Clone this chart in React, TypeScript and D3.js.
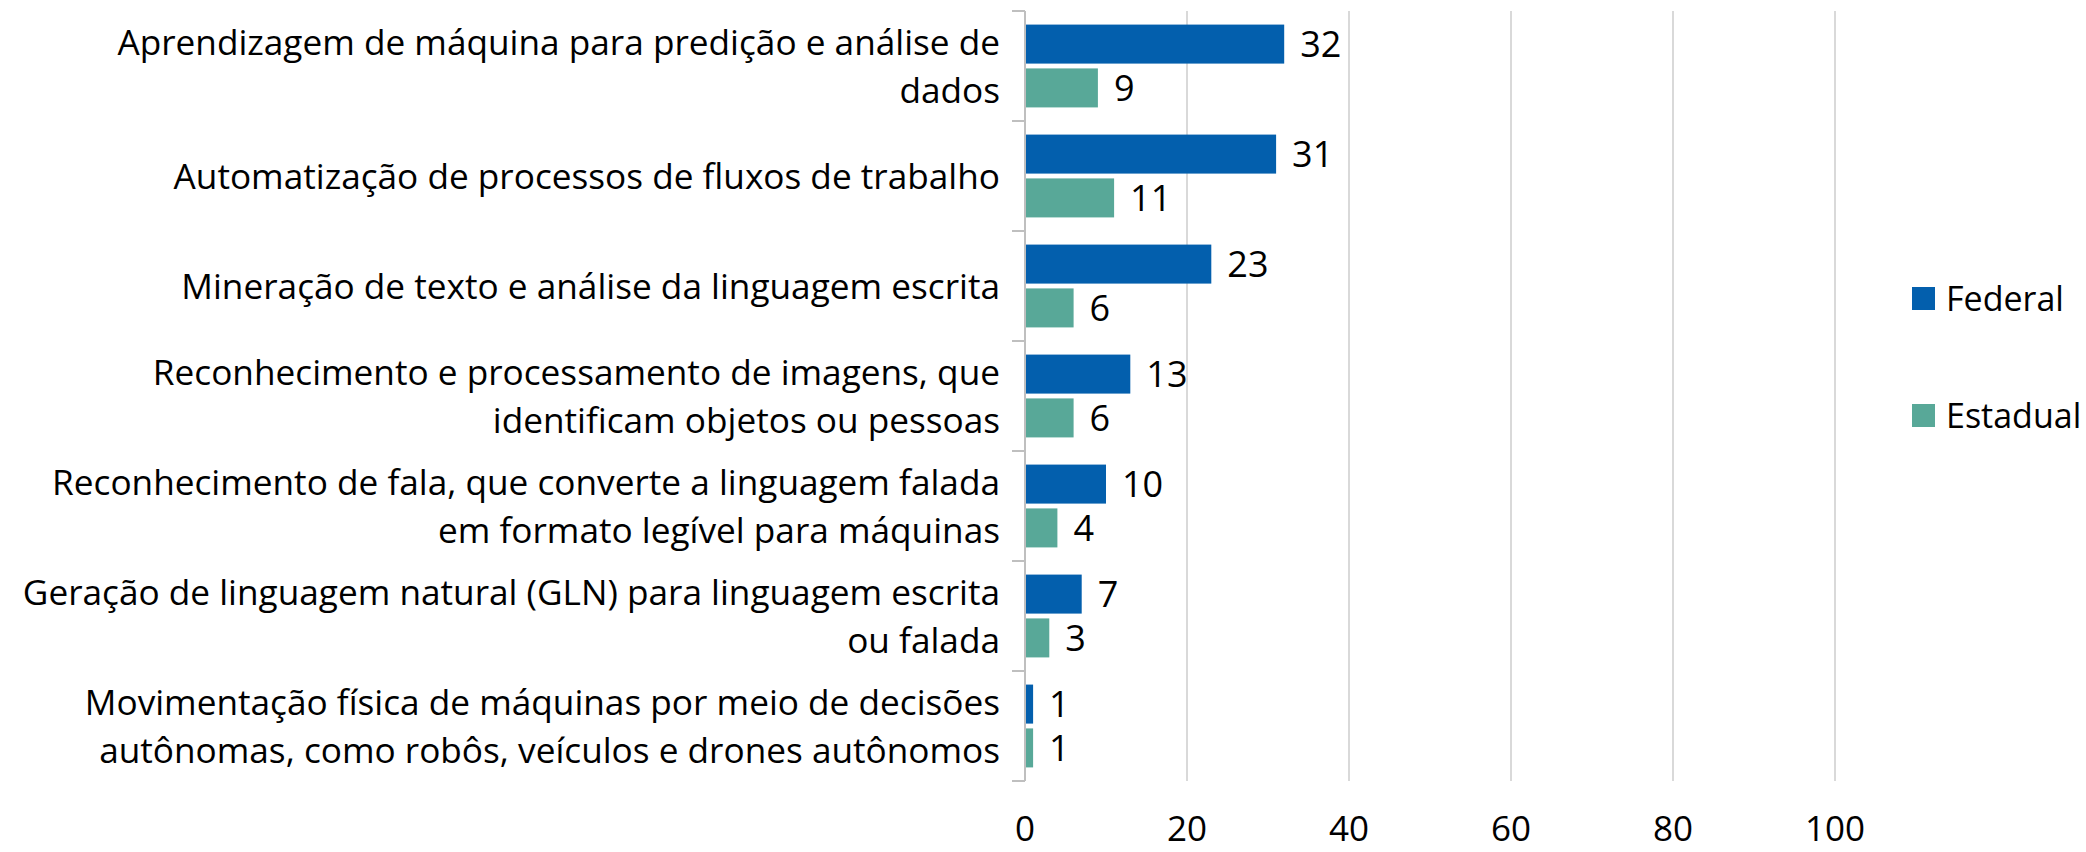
import React, { useEffect } from 'react';
import * as d3 from 'd3';

// categories, top to bottom (line breaks as in the source)
const categories: string[][] = [
    ['Aprendizagem de máquina para predição e análise de', 'dados'],
    ['Automatização de processos de fluxos de trabalho'],
    ['Mineração de texto e análise da linguagem escrita'],
    ['Reconhecimento e processamento de imagens, que', 'identificam objetos ou pessoas'],
    ['Reconhecimento de fala, que converte a linguagem falada', 'em formato legível para máquinas'],
    ['Geração de linguagem natural (GLN) para linguagem escrita', 'ou falada'],
    ['Movimentação física de máquinas por meio de decisões', 'autônomas, como robôs, veículos e drones autônomos'],
];
const federal = [32, 31, 23, 13, 10, 7, 1];
const estadual = [9, 11, 6, 6, 4, 3, 1];
const series = ['Federal', 'Estadual'];
const xTicks = [0, 20, 40, 60, 80, 100];

const COLORS = ['#035fad', '#58a898'];
const FONT = "'Open Sans', 'Noto Sans', sans-serif";
const WIDTH = 2086;
const HEIGHT = 852;
const MARGIN = { top: 11, left: 1025, bottom: 71 };

const App = () => {
    useEffect(() => {
        document.body.style.margin = '0';
    }, []);

    const x = d3.scaleLinear().domain([0, 100]).range([MARGIN.left, MARGIN.left + 810]);
    const y = d3.scaleBand<number>()
        .domain(d3.range(categories.length))
        .range([MARGIN.top, HEIGHT - MARGIN.bottom]);
    const inner = d3.scaleBand<number>()
        .domain([0, 1])
        .range([0, y.bandwidth()])
        .paddingInner(0.11)
        .paddingOuter(0.31);
    const values = [federal, estadual];
    const plotBottom = HEIGHT - MARGIN.bottom;

    return (
        <svg width={WIDTH} height={HEIGHT} style={{ display: 'block', fontFamily: FONT }}>
            {/* gridlines */}
            {xTicks.slice(1).map(t => (
                <line key={'g' + t} x1={x(t)} x2={x(t)} y1={MARGIN.top} y2={plotBottom}
                    stroke="#d9d9d9" strokeWidth={2} />
            ))}
            {/* bars */}
            {values.map((vals, s) => vals.map((v, i) => {
                const by = y(i)! + inner(s)!;
                return (
                    <g key={s + '-' + i}>
                        <rect x={x(0)} y={by} width={x(v) - x(0)} height={inner.bandwidth()}
                            fill={COLORS[s]} />
                        <text x={x(v) + 16} y={by + inner.bandwidth() / 2} dy="0.36em"
                            fontSize={36} fill="#000">{v}</text>
                    </g>
                );
            }))}
            {/* y axis */}
            <line x1={x(0)} x2={x(0)} y1={MARGIN.top} y2={plotBottom} stroke="#bfbfbf" strokeWidth={2} />
            {d3.range(categories.length + 1).map(i => {
                const ty = i < categories.length ? y(i)! : plotBottom;
                return <line key={'t' + i} x1={x(0) - 13} x2={x(0)} y1={ty} y2={ty} stroke="#bfbfbf" strokeWidth={2} />;
            })}
            {/* category labels */}
            {categories.map((lines, i) => {
                const cy = y(i)! + y.bandwidth() / 2;
                return (
                    <text key={'c' + i} textAnchor="end" fontSize={35.2} fill="#000">
                        {lines.map((ln, k) => (
                            <tspan key={k} x={1000} y={cy + (k - (lines.length - 1) / 2) * 48} dy="0.36em">{ln}</tspan>
                        ))}
                    </text>
                );
            })}
            {/* x tick labels */}
            {xTicks.map(t => (
                <text key={'x' + t} x={x(t)} y={841} textAnchor="middle" fontSize={35} fill="#000">{t}</text>
            ))}
            {/* legend */}
            {series.map((name, s) => (
                <g key={name} transform={`translate(1912, ${287 + s * 117})`}>
                    <rect width={23} height={23} fill={COLORS[s]} />
                    <text x={34} y={11.5} dy="0.36em" fontSize={34} fill="#000">{name}</text>
                </g>
            ))}
        </svg>
    );
};

export default App;
